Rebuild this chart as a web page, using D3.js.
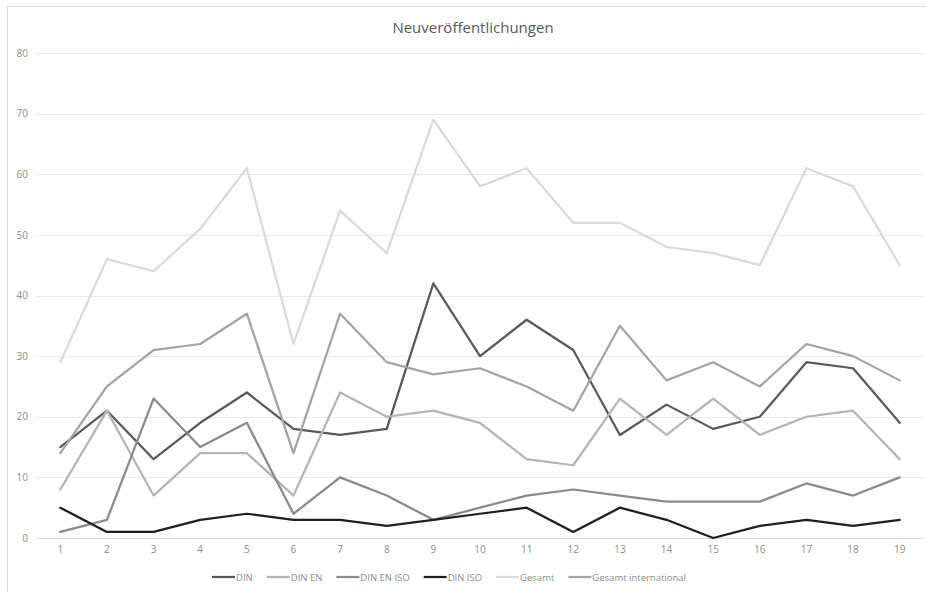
<!DOCTYPE html>
<html>
<head>
<meta charset="utf-8">
<script src="https://cdn.jsdelivr.net/npm/d3@7"></script>
<style>
  html, body { margin: 0; padding: 0; background: #fff; }
  svg { display: block; }
  text { font-family: "Open Sans", "Liberation Sans", sans-serif; }
</style>
</head>
<body>
<svg id="chart" width="926" height="592"></svg>
<script>
// Categories along the x axis
const categories = ["1","2","3","4","5","6","7","8","9","10","11","12","13","14","15","16","17","18","19"];

// Series values
const din         = [15,21,13,19,24,18,17,18,42,30,36,31,17,22,18,20,29,28,19];
const dinEn       = [8,21,7,14,14,7,24,20,21,19,13,12,23,17,23,17,20,21,13];
const dinEnIso    = [1,3,23,15,19,4,10,7,3,5,7,8,7,6,6,6,9,7,10];
const dinIso      = [5,1,1,3,4,3,3,2,3,4,5,1,5,3,0,2,3,2,3];
const gesamt      = [29,46,44,51,61,32,54,47,69,58,61,52,52,48,47,45,61,58,45];
const gesamtIntl  = [14,25,31,32,37,14,37,29,27,28,25,21,35,26,29,25,32,30,26];

// Series names (legend order)
const seriesNames = ["DIN","DIN EN","DIN EN ISO","DIN ISO","Gesamt","Gesamt international"];

// Y-axis tick values
const yTicks = [0,10,20,30,40,50,60,70,80];

const chartTitle = "Neuveröffentlichungen";

const seriesData = [din, dinEn, dinEnIso, dinIso, gesamt, gesamtIntl];
const colors = ["#595959","#b4b4b4","#8a8a8a","#1e1e1e","#d9d9d9","#a3a3a3"];

const svg = d3.select("#chart");

// Outer chart frame (partly outside the view)
svg.append("rect")
  .attr("x", 7.5).attr("y", 6.5)
  .attr("width", 940).attr("height", 620)
  .attr("fill", "#fff")
  .attr("stroke", "#d9d9d9")
  .attr("stroke-width", 1);

const plot = { left: 37, right: 923, top: 53, bottom: 538 };

const x = d3.scaleBand()
  .domain(categories)
  .range([plot.left, plot.right]);

const y = d3.scaleLinear()
  .domain([0, 80])
  .range([plot.bottom, plot.top]);

// Horizontal gridlines
svg.append("g")
  .selectAll("line")
  .data(yTicks)
  .join("line")
  .attr("x1", plot.left).attr("x2", plot.right)
  .attr("y1", d => Math.round(y(d)) + 0.5)
  .attr("y2", d => Math.round(y(d)) + 0.5)
  .attr("stroke", d => d === 0 ? "#d9d9d9" : "#e9e9e9")
  .attr("stroke-width", 1);

// Y axis labels
const yAxis = d3.axisLeft(y).tickValues(yTicks).tickSize(0).tickPadding(0);
const gy = svg.append("g")
  .attr("transform", `translate(${plot.left - 9},0)`)
  .call(yAxis);
gy.select(".domain").remove();
gy.selectAll("text")
  .attr("fill", "#8c8c8c")
  .attr("font-size", "10px")
  .style("font-family", "'Open Sans', sans-serif");

// X axis labels
const xAxis = d3.axisBottom(x).tickSize(0).tickPadding(0);
const gx = svg.append("g")
  .attr("transform", `translate(0,${plot.bottom + 8})`)
  .call(xAxis);
gx.select(".domain").remove();
gx.selectAll("text")
  .attr("fill", "#8c8c8c")
  .attr("font-size", "10px")
  .style("font-family", "'Open Sans', sans-serif");

// Lines
const line = d3.line()
  .x((d, i) => x(categories[i]) + x.bandwidth() / 2)
  .y(d => y(d));

svg.append("g")
  .selectAll("path")
  .data(seriesData)
  .join("path")
  .attr("d", d => line(d))
  .attr("fill", "none")
  .attr("stroke", (d, i) => colors[i])
  .attr("stroke-width", 2.25)
  .attr("stroke-linejoin", "round")
  .attr("stroke-linecap", "round");

// Title
svg.append("text")
  .attr("x", 473)
  .attr("y", 33)
  .attr("text-anchor", "middle")
  .attr("fill", "#595959")
  .attr("font-size", "15px")
  .text(chartTitle);

// Legend
const legend = svg.append("g").attr("transform", "translate(0,577)");
const items = legend.selectAll("g")
  .data(seriesNames)
  .join("g");
items.append("line")
  .attr("x1", 0).attr("x2", 23)
  .attr("y1", 0).attr("y2", 0)
  .attr("stroke", (d, i) => colors[i])
  .attr("stroke-width", 2.25);
items.append("text")
  .attr("x", 24)
  .attr("y", 3.5)
  .attr("fill", "#8c8c8c")
  .attr("font-size", "9.5px")
  .text(d => d);

let cursor = 0;
const widths = [];
items.each(function () {
  const w = 24 + this.querySelector("text").getComputedTextLength();
  widths.push(w);
});
const gap = 14;
const total = d3.sum(widths) + gap * (widths.length - 1);
cursor = 449 - total / 2;
items.attr("transform", (d, i) => {
  const t = `translate(${cursor},0)`;
  cursor += widths[i] + gap;
  return t;
});
</script>
</body>
</html>
